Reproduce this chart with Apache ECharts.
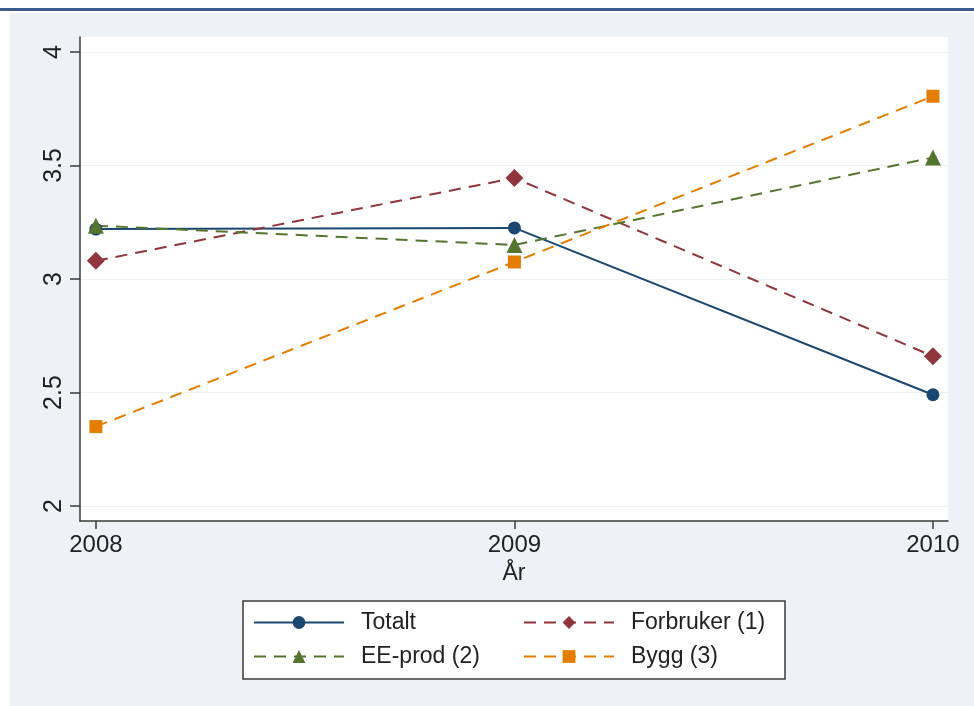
<!DOCTYPE html>
<html>
<head>
<meta charset="utf-8">
<script src="https://cdn.jsdelivr.net/npm/echarts@6/dist/echarts.min.js"></script>
<style>
html,body{margin:0;padding:0;background:#ffffff;}
#chart{width:974px;height:706px;}
</style>
</head>
<body>
<div id="chart"></div>
<script>
var years = [2008, 2009, 2010];
var yTicks = [2, 2.5, 3, 3.5, 4];
var totalt = [3.22, 3.225, 2.49];
var forbruker = [3.08, 3.445, 2.66];
var eeProd = [3.235, 3.15, 3.535];
var bygg = [2.35, 3.075, 3.805];
var seriesNames = ['Totalt', 'Forbruker (1)', 'EE-prod (2)', 'Bygg (3)'];
var axisTitleX = 'År';

function pairs(vals){ return years.map(function(y,i){ return [y, vals[i]]; }); }

var chart = echarts.init(document.getElementById('chart'), null, {renderer:'canvas'});
var FONT = 'Liberation Sans, Arial, sans-serif';
var dash = [12, 8];

function mkSeries(name, vals, color, symbol, size, dashed){
  return {
    name: name, type: 'line', data: pairs(vals),
    symbol: symbol, symbolSize: size, showSymbol: true,
    lineStyle: {color: color, width: 2, type: dashed ? dash : 'solid'},
    itemStyle: {color: color, borderWidth: 0},
    emphasis: {disabled: true}, animation: false, z: 3
  };
}

function mkLegend(left, names){
  return {
    left:left, top:611, orient:'vertical',
    data:names, padding:0, itemGap:11,
    itemWidth:90, itemHeight:16,
    formatter:function(n){ return '{t|' + n + '}'; },
    textStyle:{fontFamily:FONT, fontSize:23, color:'#222',
      rich:{t:{fontFamily:FONT, fontSize:23, color:'#222', padding:[0,0,0,12]}}},
    selectedMode:false, z:10
  };
}

chart.setOption({
  backgroundColor: '#eef1f6',
  animation: false,
  graphic: [
    {type:'rect', left:0, top:0, shape:{width:974, height:13}, style:{fill:'#ffffff'}, z:-1},
    {type:'rect', left:0, top:8, shape:{width:974, height:3}, style:{fill:'#3c5a8a'}, z:-1},
    {type:'rect', left:0, top:13, shape:{width:10, height:693}, style:{fill:'#ffffff'}, z:-1},
    {type:'rect', x:243, y:601, shape:{x:0, y:0, width:542, height:78},
      style:{fill:'#ffffff', stroke:'#3a3a3a', lineWidth:1.5}, z:1}
  ],
  grid: {left:80, right:26, top:37, bottom:185, show:true, backgroundColor:'#ffffff', borderWidth:0},
  xAxis: {
    type:'value', min:2007.962, max:2010.036,
    name: axisTitleX, nameLocation:'middle', nameGap:36,
    nameTextStyle:{fontFamily:FONT, fontSize:23, color:'#222'},
    axisLine:{show:true, lineStyle:{color:'#3a3a3a', width:1.5}},
    axisTick:{show:true, length:8, customValues: years, lineStyle:{color:'#3a3a3a', width:1.5}},
    axisLabel:{customValues: years, fontFamily:FONT, fontSize:24, color:'#222', margin:12,
      formatter:function(v){return String(Math.round(v));}},
    splitLine:{show:false}
  },
  yAxis: {
    type:'value', min:1.934, max:4.066,
    axisLine:{show:true, lineStyle:{color:'#3a3a3a', width:1.5}},
    axisTick:{show:true, length:10, customValues: yTicks, lineStyle:{color:'#3a3a3a', width:1.5}},
    axisLabel:{customValues: yTicks, rotate:90, fontFamily:FONT, fontSize:25, color:'#222', margin:13,
      formatter:function(v){return String(v);}},
    splitLine:{show:true, lineStyle:{color:'#eef1f4', width:1}}
  },
  legend: [
    mkLegend(253, [seriesNames[0], seriesNames[2]]),
    mkLegend(523, [seriesNames[1], seriesNames[3]])
  ],
  series: [
    mkSeries(seriesNames[0], totalt, '#1a476f', 'circle', 13, false),
    mkSeries(seriesNames[1], forbruker, '#90353b', 'diamond', 18, true),
    mkSeries(seriesNames[2], eeProd, '#55752f', 'triangle', 16, true),
    mkSeries(seriesNames[3], bygg, '#e37e00', 'rect', 13, true)
  ]
});
</script>
</body>
</html>
